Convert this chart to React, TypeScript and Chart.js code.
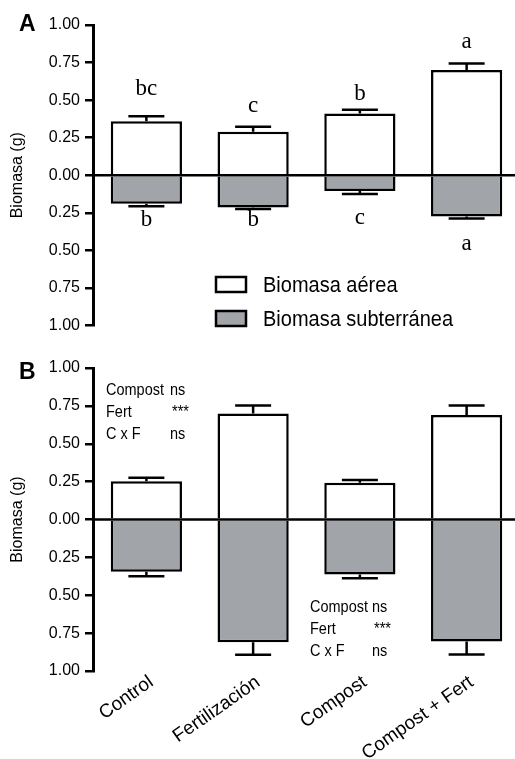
import React, { useEffect, useRef } from "react";
import { Chart, registerables } from "chart.js";

Chart.register(...registerables);

// ---------------- data ----------------
const categories = ["Control", "Fertilización", "Compost", "Compost + Fert"];
const seriesNames = ["Biomasa aérea", "Biomasa subterránea"];

// Panel A
const aereaA = [0.36, 0.29, 0.41, 0.7];
const aereaErrA = [0.032, 0.032, 0.026, 0.044];
const subterraneaA = [-0.19, -0.215, -0.105, -0.275];
const subterraneaErrA = [0.017, 0.01, 0.02, 0.013];
const lettersAereaA = ["bc", "c", "b", "a"];
const lettersSubA = ["b", "b", "c", "a"];

// Panel B
const aereaB = [0.253, 0.7, 0.242, 0.69];
const aereaErrB = [0.022, 0.052, 0.018, 0.062];
const subterraneaB = [-0.345, -0.81, -0.363, -0.805];
const subterraneaErrB = [0.029, 0.083, 0.024, 0.086];
const factorNames = ["Compost", "Fert", "C x F"];
const signifAereaB = ["ns", "***", "ns"];
const signifSubB = ["ns", "***", "ns"];

// ---------------- styling / layout ----------------
const SANS = "'Liberation Sans', Arial, sans-serif";
const SERIF = "'Liberation Serif', 'Times New Roman', serif";
const GRAY = "#a1a5a9";
const CANVAS_W = 520;
const CAP_HALF = 18;
// letter label anchor values (y in data units) for panel A
const letterPosAereaA = [0.572, 0.46, 0.54, 0.888];
const letterPosSubA = [-0.296, -0.296, -0.283, -0.46];

type Extra = {
  panel: string;
  panelY: number;
  errors: number[][];
  letters?: { texts: string[]; pos: number[] }[];
  legend?: boolean;
  stats?: { x: number; xs: number; y: number; signif: string[] }[];
};

function stretchText(ctx: CanvasRenderingContext2D, t: string, x: number, y: number, sy: number) {
  ctx.save();
  ctx.translate(x, y);
  ctx.scale(1, sy);
  ctx.fillText(t, 0, 0);
  ctx.restore();
}

function makeOverlay(extra: Extra) {
  return {
    id: "overlay" + extra.panel,
    afterDatasetsDraw(chart: any) {
      const { ctx, chartArea, scales } = chart;
      const y = scales.y;
      ctx.save();
      ctx.strokeStyle = "#000";
      ctx.lineWidth = 2.5;
      // zero line
      const y0 = y.getPixelForValue(0);
      ctx.beginPath();
      ctx.moveTo(chartArea.left, y0);
      ctx.lineTo(chart.width, y0);
      ctx.stroke();
      // error bars
      extra.errors.forEach((errs, di) => {
        const meta = chart.getDatasetMeta(di);
        const vals = chart.data.datasets[di].data as number[];
        meta.data.forEach((bar: any, i: number) => {
          const v = vals[i];
          const e = errs[i];
          const end = v >= 0 ? v + e : v - e;
          const yv = y.getPixelForValue(v);
          const ye = y.getPixelForValue(end);
          ctx.beginPath();
          ctx.moveTo(bar.x, yv);
          ctx.lineTo(bar.x, ye);
          ctx.moveTo(bar.x - CAP_HALF, ye);
          ctx.lineTo(bar.x + CAP_HALF, ye);
          ctx.stroke();
        });
      });
      // letters
      if (extra.letters) {
        ctx.fillStyle = "#000";
        ctx.font = `23px ${SERIF}`;
        ctx.textAlign = "center";
        ctx.textBaseline = "middle";
        extra.letters.forEach((grp) => {
          const meta = chart.getDatasetMeta(0);
          meta.data.forEach((bar: any, i: number) => {
            ctx.fillText(grp.texts[i], bar.x, y.getPixelForValue(grp.pos[i]));
          });
        });
      }
      ctx.restore();
    },
    afterDraw(chart: any) {
      const { ctx } = chart;
      ctx.save();
      ctx.fillStyle = "#000";
      ctx.textBaseline = "middle";
      ctx.textAlign = "left";
      ctx.font = `bold 23px ${SANS}`;
      ctx.fillText(extra.panel, 19, extra.panelY);
      if (extra.legend) {
        const ds = chart.data.datasets;
        const rows = [284.5, 318.5];
        ds.forEach((d: any, i: number) => {
          ctx.fillStyle = d.backgroundColor;
          ctx.strokeStyle = "#000";
          ctx.lineWidth = 2.5;
          ctx.fillRect(216, rows[i] - 7.5, 30, 15);
          ctx.strokeRect(216, rows[i] - 7.5, 30, 15);
          ctx.fillStyle = "#000";
          ctx.font = `20px ${SANS}`;
          stretchText(ctx, d.label, 263, rows[i] + 1, 1.1);
        });
      }
      if (extra.stats) {
        ctx.font = `14.5px ${SANS}`;
        ctx.fillStyle = "#000";
        extra.stats.forEach((st) => {
          factorNames.forEach((f, i) => {
            const yy = st.y + i * 22.2;
            stretchText(ctx, f, st.x, yy, 1.18);
            stretchText(ctx, st.signif[i], st.xs + (st.signif[i] === "***" ? 2 : 0), yy, 1.18);
          });
        });
      }
      ctx.restore();
    },
  };
}

function yScale() {
  return {
    min: -1,
    max: 1,
    stacked: true,
    ticks: {
      stepSize: 0.25,
      callback: (v: any) => Math.abs(Number(v)).toFixed(2),
      font: { family: SANS, size: 16 },
      color: "#000",
      padding: 5,
    },
    grid: { drawOnChartArea: false, color: "#000", lineWidth: 2.5, tickLength: 8 },
    border: { display: true, color: "#000", width: 3 },
    title: {
      display: true,
      text: "Biomasa (g)",
      font: { family: SANS, size: 16 },
      color: "#000",
      padding: { top: 8, bottom: 0 },
    },
    afterFit: (s: any) => {
      s.width = 93;
    },
  };
}

function datasets(pos: number[], neg: number[]) {
  const common = {
    borderColor: "#000",
    borderWidth: 2.5,
    borderSkipped: "start",
    barPercentage: 0.667,
    categoryPercentage: 1,
  };
  return [
    { label: seriesNames[0], data: pos, backgroundColor: "#ffffff", ...common },
    { label: seriesNames[1], data: neg, backgroundColor: GRAY, ...common },
  ];
}

function ChartA() {
  const ref = useRef<HTMLCanvasElement>(null);
  useEffect(() => {
    const chart = new Chart(ref.current!, {
      type: "bar",
      data: { labels: categories, datasets: datasets(aereaA, subterraneaA) as any },
      options: {
        responsive: false,
        animation: false,
        layout: { padding: { top: 25, bottom: 11, left: 0, right: 0 } },
        plugins: { legend: { display: false }, tooltip: { enabled: false } },
        scales: {
          x: { display: false, stacked: true },
          y: yScale() as any,
        },
      },
      plugins: [
        makeOverlay({
          panel: "A",
          panelY: 25,
          errors: [aereaErrA, subterraneaErrA],
          letters: [
            { texts: lettersAereaA, pos: letterPosAereaA },
            { texts: lettersSubA, pos: letterPosSubA },
          ],
          legend: true,
        }),
      ],
    });
    return () => chart.destroy();
  }, []);
  return <canvas ref={ref} width={CANVAS_W} height={340} style={{ display: "block" }} />;
}

function ChartB() {
  const ref = useRef<HTMLCanvasElement>(null);
  useEffect(() => {
    const chart = new Chart(ref.current!, {
      type: "bar",
      data: { labels: categories, datasets: datasets(aereaB, subterraneaB) as any },
      options: {
        responsive: false,
        animation: false,
        layout: { padding: { top: 28, bottom: 0, left: 0, right: 0 } },
        plugins: { legend: { display: false }, tooltip: { enabled: false } },
        scales: {
          x: {
            stacked: true,
            grid: { display: false },
            border: { display: false },
            ticks: {
              minRotation: 35,
              maxRotation: 35,
              autoSkip: false,
              font: { family: SANS, size: 19 },
              color: "#000",
              padding: -8,
              labelOffset: 5,
            },
            afterFit: (s: any) => {
              s.height = 88;
            },
          } as any,
          y: yScale() as any,
        },
      },
      plugins: [
        makeOverlay({
          panel: "B",
          panelY: 33,
          errors: [aereaErrB, subterraneaErrB],
          stats: [
            { x: 106, xs: 170, y: 50, signif: signifAereaB },
            { x: 310, xs: 372, y: 267, signif: signifSubB },
          ],
        }),
      ],
    });
    return () => chart.destroy();
  }, []);
  return <canvas ref={ref} width={CANVAS_W} height={419} style={{ display: "block" }} />;
}

export default function App() {
  return (
    <div
      style={{
        position: "absolute",
        left: 0,
        top: 0,
        width: 515,
        height: 759,
        overflow: "hidden",
        background: "#fff",
      }}
    >
      <ChartA />
      <ChartB />
    </div>
  );
}
